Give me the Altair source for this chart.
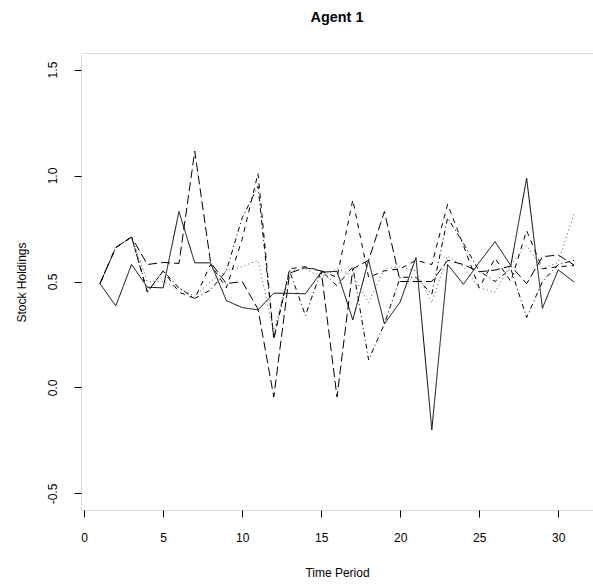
import altair as alt
import pandas as pd

# ---- data ----
periods = list(range(1, 32))
series_names = ["s1", "s2", "s3", "s4", "s5"]

s1 = [0.49, 0.385, 0.58, 0.473, 0.47, 0.83, 0.588, 0.588, 0.41, 0.377, 0.366,
      0.445, 0.444, 0.442, 0.544, 0.548, 0.319, 0.60, 0.30, 0.404, 0.613, -0.20,
      0.58, 0.487, 0.59, 0.688, 0.575, 0.987, 0.374, 0.555, 0.498]
s2 = [0.49, 0.66, 0.71, 0.45, 0.55, 0.45, 0.42, 0.58, 0.47, 0.70, 1.01, 0.23,
      0.56, 0.57, 0.55, 0.52, 0.885, 0.52, 0.55, 0.56, 0.60, 0.58, 0.865, 0.67,
      0.47, 0.61, 0.50, 0.74, 0.56, 0.57, 0.575]
s3 = [0.49, 0.66, 0.71, 0.50, 0.50, 0.47, 0.43, 0.50, 0.55, 0.57, 0.60, 0.26,
      0.55, 0.56, 0.52, 0.56, 0.53, 0.40, 0.56, 0.57, 0.55, 0.40, 0.62, 0.57,
      0.47, 0.45, 0.58, 0.67, 0.56, 0.59, 0.82]
s4 = [0.49, 0.66, 0.71, 0.45, 0.55, 0.47, 0.42, 0.46, 0.55, 0.80, 0.95, 0.23,
      0.55, 0.34, 0.55, 0.48, 0.57, 0.13, 0.30, 0.52, 0.52, 0.44, 0.80, 0.68,
      0.55, 0.50, 0.56, 0.33, 0.50, 0.58, 0.60]
s5 = [0.49, 0.66, 0.71, 0.58, 0.59, 0.585, 1.115, 0.59, 0.49, 0.50, 0.37, -0.045,
      0.54, 0.565, 0.55, -0.045, 0.56, 0.60, 0.83, 0.50, 0.50, 0.50, 0.60, 0.58,
      0.546, 0.554, 0.573, 0.49, 0.617, 0.625, 0.578]

x_ticks = [0, 5, 10, 15, 20, 25, 30]
y_ticks = [-0.5, 0.0, 0.5, 1.0, 1.5]

dash_styles = [[1, 0], [5, 5], [1, 3], [1, 3, 5, 3], [9, 4]]
line_colors = ["black", "black", "#555555", "black", "black"]

rows = []
for name, vals in zip(series_names, [s1, s2, s3, s4, s5]):
    for t, v in zip(periods, vals):
        rows.append({"period": t, "value": v, "series": name})
df = pd.DataFrame(rows)

FONT = "Liberation Sans"

lines = alt.Chart(df).mark_line(strokeWidth=1, clip=True).encode(
    x=alt.X("period:Q",
            scale=alt.Scale(domain=[-0.2, 32.2], nice=False, zero=False),
            axis=alt.Axis(values=x_ticks, title="Time Period", grid=False,
                          domain=False, tickSize=7, tickColor="black",
                          labelColor="black", labelFontSize=12, labelFont=FONT,
                          labelBaseline="top", labelPadding=15, labelFlush=False,
                          titleFont=FONT, titleFontSize=12, titleFontWeight="normal",
                          titleColor="black", titleBaseline="alphabetic",
                          titleY=66)),
    y=alt.Y("value:Q",
            scale=alt.Scale(domain=[-0.578, 1.578], nice=False, zero=False),
            axis=alt.Axis(values=y_ticks, title="Stock Holdings", grid=False,
                          domain=False, tickSize=7, tickColor="black",
                          labelColor="black", labelFontSize=12, labelFont=FONT,
                          labelAngle=270, labelAlign="center",
                          labelBaseline="alphabetic", labelPadding=18,
                          labelFlush=False,
                          labelExpr="datum.value < 0 ? '-' + format(-datum.value, '.1f') : format(datum.value, '.1f')",
                          titleFont=FONT, titleFontSize=12, titleFontWeight="normal",
                          titleColor="black", titleAngle=270, titleAlign="center",
                          titleBaseline="alphabetic", titleX=-56, titleY=229)),
    strokeDash=alt.StrokeDash("series:N",
                              scale=alt.Scale(domain=series_names, range=dash_styles),
                              legend=None),
    color=alt.Color("series:N",
                    scale=alt.Scale(domain=series_names, range=line_colors),
                    legend=None),
    order=alt.Order("period:Q"),
)

chart = lines.properties(
    width=512,
    height=457,
    title=alt.Title("Agent 1", fontSize=14.4, fontWeight="bold", font=FONT,
                    color="black", baseline="alphabetic", offset=17),
    autosize=alt.AutoSizeParams(type="none"),
    padding={"left": 81, "top": 53, "right": 0, "bottom": 75},
).configure_view(stroke="black", strokeWidth=1).configure(background="white")

chart.save("out.html", embed_options={"renderer": "svg", "actions": False})
